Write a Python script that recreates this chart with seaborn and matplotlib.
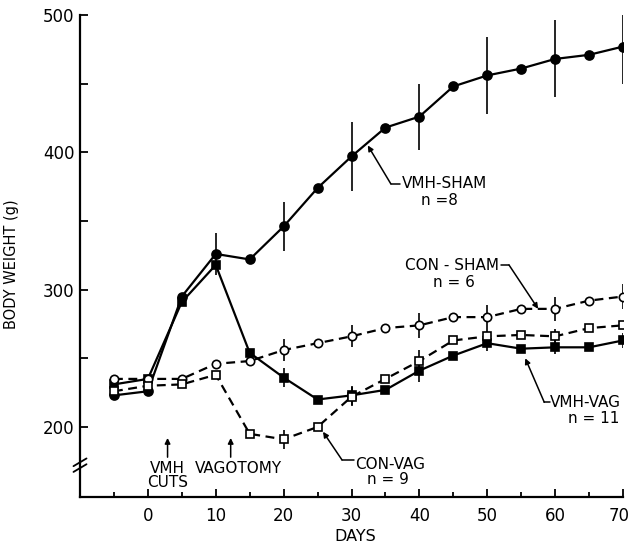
import numpy as np
import pandas as pd
import seaborn as sns
import matplotlib
matplotlib.use('Agg')
import matplotlib.pyplot as plt
from matplotlib.transforms import ScaledTranslation

# data (body weight in g)
days = [-5, 0, 5, 10, 15, 20, 25, 30, 35, 40, 45, 50, 55, 60, 65, 70]
vmh_sham = [223, 226, 295, 326, 322, 346, 374, 397, 418, 426, 448, 456, 461, 468, 471, 477]
vmh_vag = [231, 235, 291, 318, 254, 236, 220, 223, 227, 241, 252, 261, 257, 258, 258, 263]
con_sham = [235, 235, 235, 246, 248, 256, 261, 266, 272, 274, 280, 280, 286, 286, 292, 295]
con_vag = [226, 230, 231, 238, 195, 191, 200, 222, 235, 248, 263, 266, 267, 266, 272, 274]

# error bars (SE) at every 10 days, 0 = not drawn
err_days = [10, 20, 30, 40, 50, 60, 70]
vmh_sham_err = [15, 18, 25, 24, 28, 28, 27]
vmh_vag_err = [0, 7, 7, 8.5, 5.5, 5, 5.5]
con_sham_err = [0, 8, 8, 9, 8.5, 9, 9]
con_vag_err = [0, 7, 7, 8, 5, 5, 0]

sns.set_theme(style='ticks')
plt.rcParams['font.family'] = ['DejaVu Sans']
plt.rcParams['text.color'] = 'black'
plt.rcParams['axes.labelcolor'] = 'black'

fig = plt.figure(figsize=(6.31, 5.45), dpi=100)
ax = fig.add_axes([80 / 631, 1 - 497 / 545, 543 / 631, 482 / 545])

groups = {
    'VMH-SHAM': (vmh_sham, vmh_sham_err, 'o', '-', 'black', 6.5),
    'VMH-VAG': (vmh_vag, vmh_vag_err, 's', '-', 'black', 6.3),
    'CON-SHAM': (con_sham, con_sham_err, 'o', (0, (4, 2.5)), 'white', 6.0),
    'CON-VAG': (con_vag, con_vag_err, 's', (0, (4, 2.5)), 'white', 6.0),
}

for name, (vals, errs, mk, ls, face, ms) in groups.items():
    df = pd.DataFrame({'day': days, 'weight': vals})
    lookup = dict(zip(days, vals))
    for d, e in zip(err_days, errs):
        if e > 0:
            ax.vlines(d, lookup[d] - e, lookup[d] + e, color='black', lw=1.2, zorder=2)
    sns.lineplot(data=df, x='day', y='weight', ax=ax, color='black', lw=1.6,
                 linestyle=ls, marker=mk, markersize=ms, markerfacecolor=face,
                 markeredgecolor='black', markeredgewidth=1.2, legend=False, zorder=3)

ax.set_xlim(-10, 70)
ax.set_ylim(149, 500)
ax.set_xticks(range(0, 71, 10))
ax.set_xticks(range(-5, 71, 10), minor=True)
ax.set_yticks([200, 300, 400, 500])
ax.set_yticks([250, 350, 450], minor=True)
ax.tick_params(axis='both', which='both', direction='in', width=1.3, colors='black',
               labelsize=12)
ax.tick_params(axis='y', which='both', length=6, pad=4)
ax.tick_params(axis='x', which='major', length=5.5, pad=7)
ax.tick_params(axis='x', which='minor', length=3.5)
for s in ['top', 'right']:
    ax.spines[s].set_visible(False)
for s in ['left', 'bottom']:
    ax.spines[s].set_linewidth(1.6)
    ax.spines[s].set_color('black')

# keep the "70" inside the canvas
fig.canvas.draw()
last = ax.get_xticklabels()[-1]
last.set_transform(last.get_transform() + ScaledTranslation(-4 / 100, 0, fig.dpi_scale_trans))

ax.set_xlabel('DAYS', fontsize=11.5)
ax.set_ylabel('BODY WEIGHT (g)', fontsize=10.5)
ax.xaxis.set_label_coords(0.506, -0.066)
ax.yaxis.set_label_coords(-0.112, 0.483)

# axis break on the y spine
for dy in (0, 0.012):
    ax.plot([-0.012, 0.012], [0.052 + dy, 0.068 + dy], transform=ax.transAxes,
            color='black', lw=1.3, clip_on=False)

arrow = dict(arrowstyle='-|>', color='black', lw=1.1, mutation_scale=8, shrinkA=0, shrinkB=0)
fs = 11

# VMH-SHAM label
ax.annotate('', xy=(32.4, 405), xytext=(35.8, 377), arrowprops=arrow)
ax.plot([35.8, 37.1], [377, 377], color='black', lw=1.1)
ax.text(37.4, 377, 'VMH-SHAM', fontsize=fs, va='center', ha='left')
ax.text(42.9, 365, 'n =8', fontsize=fs, va='center', ha='center')

# CON-SHAM label
ax.annotate('', xy=(57.5, 286), xytext=(53.2, 318), arrowprops=arrow)
ax.plot([52.0, 53.2], [318, 318], color='black', lw=1.1)
ax.text(51.8, 317.5, 'CON - SHAM', fontsize=fs, va='center', ha='right')
ax.text(45.1, 305, 'n = 6', fontsize=fs, va='center', ha='center')

# VMH-VAG label
ax.annotate('', xy=(55.6, 250), xytext=(58.4, 218), arrowprops=arrow)
ax.plot([58.4, 59.2], [218, 218], color='black', lw=1.1)
ax.text(59.3, 217.5, 'VMH-VAG', fontsize=fs, va='center', ha='left')
ax.text(65.7, 206, 'n = 11', fontsize=fs, va='center', ha='center')

# CON-VAG label
ax.annotate('', xy=(25.8, 196.5), xytext=(28.6, 176), arrowprops=arrow)
ax.plot([28.6, 30.4], [176, 176], color='black', lw=1.1)
ax.text(30.6, 173, 'CON-VAG', fontsize=fs, va='center', ha='left')
ax.text(35.3, 162, 'n = 9', fontsize=fs, va='center', ha='center')

# treatment markers
ax.annotate('', xy=(2.9, 192), xytext=(2.9, 178), arrowprops=arrow)
ax.text(2.9, 175.5, 'VMH\nCUTS', fontsize=fs, va='top', ha='center', linespacing=0.95)
ax.annotate('', xy=(12.2, 192), xytext=(12.2, 178), arrowprops=arrow)
ax.text(13.4, 169.5, 'VAGOTOMY', fontsize=fs, va='center', ha='center')

fig.savefig('out.png', dpi=100, facecolor='white')
